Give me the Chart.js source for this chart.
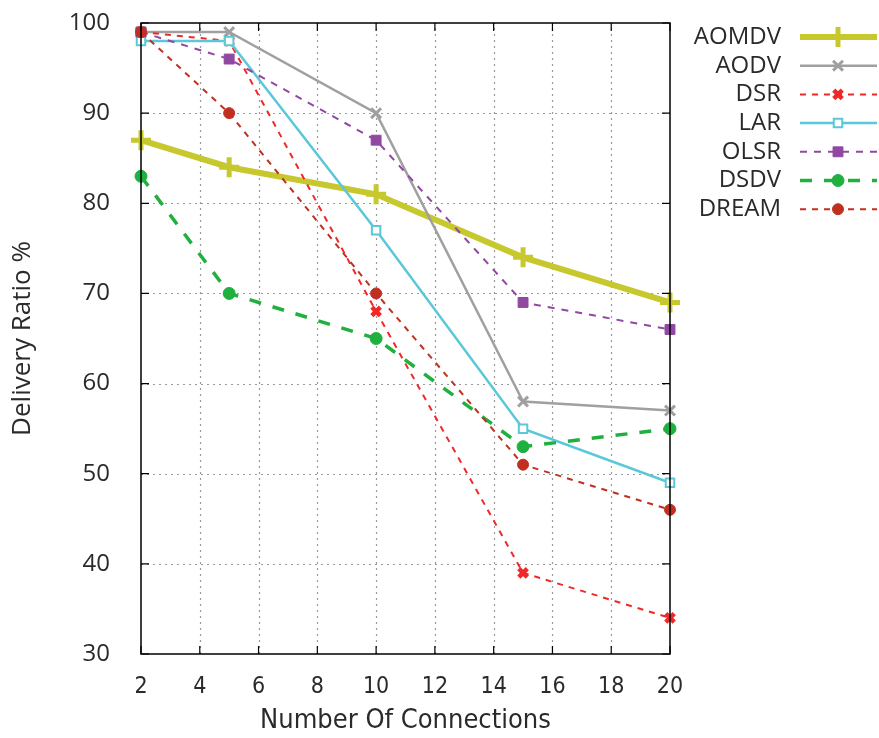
<!DOCTYPE html>
<html>
<head>
<meta charset="utf-8">
<script src="https://cdn.jsdelivr.net/npm/chart.js@4/dist/chart.umd.min.js"></script>
<style>
  html, body { margin: 0; padding: 0; background: #fff; }
  #wrap { width: 879px; height: 738px; }
</style>
</head>
<body>
<div id="wrap"><canvas id="ratioChart" width="879" height="738"></canvas></div>
<script>
// connections on the x axis
var connections = [2, 5, 10, 15, 20];

// delivery ratio (%) per protocol
var aomdv = [87, 84, 81, 74, 69];
var aodv  = [99, 99, 90, 58, 57];
var dsr   = [99, 98, 68, 39, 34];
var lar   = [98, 98, 77, 55, 49];
var olsr  = [99, 96, 87, 69, 66];
var dsdv  = [83, 70, 65, 53, 55];
var dream = [99, 90, 70, 51, 46];

var xTicks = [2, 4, 6, 8, 10, 12, 14, 16, 18, 20];
var yTicks = [30, 40, 50, 60, 70, 80, 90, 100];

function pts(vals) {
    return vals.map(function (v, i) { return {x: connections[i], y: v}; });
}

function series(label, vals, color, width, dash, style, radius, fill, pw) {
    return {
        label: label,
        data: pts(vals),
        borderColor: color,
        backgroundColor: color,
        borderWidth: width,
        borderDash: dash,
        pointStyle: style,
        pointRadius: radius,
        pointBorderColor: color,
        pointBackgroundColor: fill,
        pointBorderWidth: pw,
        tension: 0,
        clip: false
    };
}

var datasets = [
    series('AOMDV', aomdv, '#c6c82e', 6, [], 'cross', 10, '#c6c82e', 5),
    series('AODV', aodv, '#a0a0a0', 2.5, [], 'crossRot', 7, '#a0a0a0', 3),
    series('DSR', dsr, '#f02828', 2, [6, 6], 'crossRot', 6, '#f02828', 4.5),
    series('LAR', lar, '#5ac8d8', 2.5, [], 'rect', 6, '#ffffff', 2),
    series('OLSR', olsr, '#9048a0', 2, [7, 7], 'rect', 7, '#9048a0', 1),
    series('DSDV', dsdv, '#20b040', 3.5, [12, 12], 'circle', 6, '#20b040', 1),
    series('DREAM', dream, '#c03020', 2, [6, 6], 'circle', 5.5, '#c03020', 1)
];
// first series underneath, last one on top
datasets.forEach(function (d, i) { d.order = datasets.length - i; });

// dotted grid behind the lines
var gridPlugin = {
    id: 'dotGrid',
    beforeDatasetsDraw: function (chart) {
        var c = chart.ctx, a = chart.chartArea;
        var xs = chart.scales.x, ys = chart.scales.y;
        c.save();
        c.strokeStyle = '#9a9a9a';
        c.lineWidth = 1.2;
        c.setLineDash([2, 4]);
        c.beginPath();
        xTicks.slice(1, -1).forEach(function (t) {
            var px = Math.round(xs.getPixelForValue(t)) + 0.5;
            c.moveTo(px, a.bottom); c.lineTo(px, a.top);
        });
        yTicks.slice(1, -1).forEach(function (t) {
            var py = Math.round(ys.getPixelForValue(t)) + 0.5;
            c.moveTo(a.left, py); c.lineTo(a.right, py);
        });
        c.stroke();
        c.restore();
    }
};

// frame and inward ticks on all four sides
var framePlugin = {
    id: 'frame',
    afterDatasetsDraw: function (chart) {
        var c = chart.ctx, a = chart.chartArea;
        var xs = chart.scales.x, ys = chart.scales.y;
        c.save();
        c.strokeStyle = '#000';
        c.lineWidth = 1.5;
        c.setLineDash([]);
        c.strokeRect(a.left, a.top, a.right - a.left, a.bottom - a.top);
        c.lineWidth = 1.2;
        c.beginPath();
        xTicks.forEach(function (t) {
            var px = xs.getPixelForValue(t);
            c.moveTo(px, a.bottom); c.lineTo(px, a.bottom - 8);
            c.moveTo(px, a.top); c.lineTo(px, a.top + 8);
        });
        yTicks.forEach(function (t) {
            var py = ys.getPixelForValue(t);
            c.moveTo(a.left, py); c.lineTo(a.left + 8, py);
            c.moveTo(a.right, py); c.lineTo(a.right - 8, py);
        });
        c.stroke();
        c.restore();
    }
};

// key on the right: name, then a sample of the line with its marker
var keyPlugin = {
    id: 'key',
    afterDraw: function (chart) {
        var c = chart.ctx;
        c.save();
        chart.data.datasets.forEach(function (d, i) {
            var y = 37 + i * 28.7;
            c.fillStyle = '#2a2a2a';
            c.font = '24px "Open Sans"';
            c.textAlign = 'right';
            c.textBaseline = 'middle';
            c.fillText(d.label, 781, y);
            c.strokeStyle = d.borderColor;
            c.lineWidth = d.borderWidth;
            c.setLineDash(d.borderDash);
            c.beginPath();
            c.moveTo(800, y); c.lineTo(877, y);
            c.stroke();
            c.setLineDash([]);
            c.fillStyle = d.pointBackgroundColor;
            c.strokeStyle = d.pointBorderColor;
            c.lineWidth = d.pointBorderWidth;
            Chart.helpers.drawPoint(c, {pointStyle: d.pointStyle, radius: d.pointRadius, rotation: 0, borderWidth: d.pointBorderWidth}, 838, y);
        });
        c.restore();
    }
};

var ctx = document.getElementById('ratioChart').getContext('2d');
var chart = new Chart(ctx, {
    type: 'line',
    data: {datasets: datasets},
    plugins: [gridPlugin, framePlugin, keyPlugin],
    options: {
        responsive: false,
        animation: false,
        layout: {padding: {left: 0, right: 209, top: 23, bottom: 0}},
        plugins: {legend: {display: false}, tooltip: {enabled: false}},
        scales: {
            x: {
                type: 'linear',
                min: 2,
                max: 20,
                afterBuildTicks: function (s) { s.ticks = xTicks.map(function (v) { return {value: v}; }); },
                afterFit: function (s) { s.height = 84; s.paddingLeft = 0; s.paddingRight = 0; },
                grid: {display: false},
                border: {display: false},
                ticks: {color: '#2a2a2a', font: {family: '"DejaVu Sans Condensed", "DejaVu Sans"', size: 23}, padding: 11, maxRotation: 0},
                title: {display: true, text: 'Number Of Connections', color: '#2a2a2a',
                        font: {family: '"DejaVu Sans Condensed", "DejaVu Sans"', size: 27}, padding: {top: 0, bottom: 1}}
            },
            y: {
                min: 30,
                max: 100,
                afterBuildTicks: function (s) { s.ticks = yTicks.map(function (v) { return {value: v}; }); },
                afterFit: function (s) { s.width = 141; s.paddingTop = 0; s.paddingBottom = 0; },
                grid: {display: false},
                border: {display: false},
                ticks: {color: '#2a2a2a', font: {family: '"Open Sans"', size: 24}, padding: 23},
                title: {display: true, text: 'Delivery Ratio %', color: '#2a2a2a',
                        font: {family: '"Open Sans"', size: 26}, padding: {top: 7, bottom: 0}}
            }
        }
    }
});
</script>
</body>
</html>
